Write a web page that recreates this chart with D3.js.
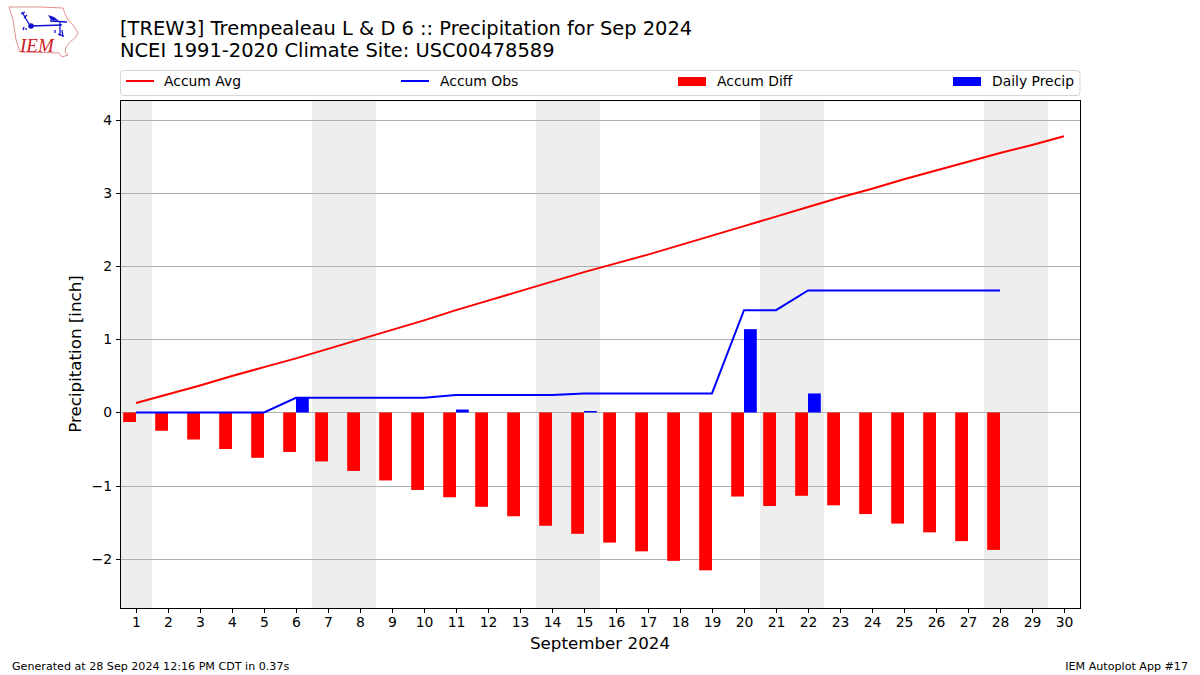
<!DOCTYPE html>
<html><head><meta charset="utf-8">
<script src="https://cdn.jsdelivr.net/npm/d3@7"></script>
<style>
html,body{margin:0;padding:0;background:#fff}
text{font-family:"DejaVu Sans",sans-serif;fill:#000}
</style></head><body>
<svg id="c" width="1200" height="675" style="display:block"></svg>
<script>
const titleLines = ["[TREW3] Trempealeau L & D 6 :: Precipitation for Sep 2024","NCEI 1991-2020 Climate Site: USC00478589"];
const days = d3.range(1,31);
const accumAvg = [0.13,0.25,0.37,0.50,0.62,0.74,0.87,1.00,1.13,1.26,1.40,1.53,1.66,1.79,1.92,2.04,2.16,2.29,2.42,2.55,2.68,2.81,2.94,3.06,3.19,3.31,3.43,3.55,3.66,3.78];
const accumObs = [0,0,0,0,0,0.20,0.20,0.20,0.20,0.20,0.24,0.24,0.24,0.24,0.26,0.26,0.26,0.26,0.26,1.40,1.40,1.67,1.67,1.67,1.67,1.67,1.67,1.67];
const accumDiff = [-0.13,-0.25,-0.37,-0.50,-0.62,-0.54,-0.67,-0.80,-0.93,-1.06,-1.16,-1.29,-1.42,-1.55,-1.66,-1.78,-1.90,-2.03,-2.16,-1.15,-1.28,-1.14,-1.27,-1.39,-1.52,-1.64,-1.76,-1.88];
const dailyPrecip = [0,0,0,0,0,0.20,0,0,0,0,0.04,0,0,0,0.02,0,0,0,0,1.14,0,0.26,0,0,0,0,0,0];
const weekendSpans = [[0.5,1.5],[6.5,8.5],[13.5,15.5],[20.5,22.5],[27.5,29.5]];
const yTicks = [-2,-1,0,1,2,3,4];
const legendLabels = ["Accum Avg","Accum Obs","Accum Diff","Daily Precip"];
const xLabel = "September 2024", yLabel = "Precipitation [inch]";
const footLeft = "Generated at 28 Sep 2024 12:16 PM CDT in 0.37s", footRight = "IEM Autoplot App #17";

const L=120.5,R=1080.5,T=100.5,B=608.5;
const x=d3.scaleLinear().domain([0.5,30.5]).range([L-0.5,R-0.5]);
const y=d3.scaleLinear().domain([-2.675,4.275]).range([B-0.5,T-0.5]);
const svg=d3.select("#c");
const barW=x(1.4)-x(1);

svg.selectAll(".wk").data(weekendSpans).join("rect").attr("fill","#eeeeee")
  .attr("x",d=>x(d[0])).attr("width",d=>x(d[1])-x(d[0])).attr("y",T).attr("height",B-T);

svg.selectAll(".grid").data(yTicks).join("line").attr("stroke","#b0b0b0").attr("stroke-width",1)
  .attr("x1",L).attr("x2",R).attr("y1",d=>Math.round(y(d))+0.5).attr("y2",d=>Math.round(y(d))+0.5);

svg.selectAll(".diff").data(accumDiff).join("rect").attr("fill","#ff0000")
  .attr("x",(d,i)=>x(days[i]-0.4)).attr("width",barW)
  .attr("y",d=>y(Math.max(d,0))).attr("height",d=>Math.abs(y(d)-y(0)));
svg.selectAll(".daily").data(dailyPrecip).join("rect").attr("fill","#0000ff")
  .attr("x",(d,i)=>x(days[i])).attr("width",barW)
  .attr("y",d=>y(d)).attr("height",d=>y(0)-y(d));

const line=d3.line().x((d,i)=>x(days[i])).y(d=>y(d));
svg.append("path").attr("d",line(accumAvg)).attr("fill","none").attr("stroke","#ff0000").attr("stroke-width",2);
svg.append("path").attr("d",line(accumObs)).attr("fill","none").attr("stroke","#0000ff").attr("stroke-width",2);

const ax=svg.append("g").attr("transform",`translate(0,${B})`)
  .call(d3.axisBottom(x).tickValues(days).tickFormat(d3.format("d")).tickSize(4.5).tickPadding(4));
const ay=svg.append("g").attr("transform",`translate(${L},0)`)
  .call(d3.axisLeft(y).tickValues(yTicks).tickFormat(d=>d<0?"\u2212"+(-d):d).tickSize(4.5).tickPadding(4));
[ax,ay].forEach(g=>{g.select(".domain").remove();g.selectAll("line").attr("stroke","#000");
  g.selectAll("text").attr("font-size",13.9).attr("font-family",'"DejaVu Sans"');});
ay.selectAll(".tick").attr("transform",d=>`translate(0,${Math.round(y(d))+0.5})`);
svg.append("rect").attr("x",L).attr("y",T).attr("width",R-L).attr("height",B-T).attr("fill","none").attr("stroke","#000");

svg.append("rect").attr("x",120.5).attr("y",70.5).attr("width",959.5).attr("height",25).attr("rx",3)
  .attr("fill","#fff").attr("stroke","#d5d5d5");
const legX=[126,401,678,953];
const legTextX=[164,440,717,992];
const legG=svg.selectAll(".leg").data(legendLabels).join("g");
legG.append("text").attr("x",(d,i)=>legTextX[i]).attr("y",86).attr("font-size",13.9).text(d=>d);
[["#ff0000",0],["#0000ff",1]].forEach(([c,i])=>svg.append("line").attr("x1",legX[i]).attr("x2",legX[i]+28).attr("y1",81).attr("y2",81).attr("stroke",c).attr("stroke-width",2));
[["#ff0000",2],["#0000ff",3]].forEach(([c,i])=>svg.append("rect").attr("x",legX[i]).attr("y",77).attr("width",28).attr("height",9).attr("fill",c));

svg.selectAll(".ttl").data(titleLines).join("text").attr("x",120).attr("y",(d,i)=>35+i*22).attr("font-size",19.45).text(d=>d);
svg.append("text").attr("x",600).attr("y",649).attr("text-anchor","middle").attr("font-size",16.7).text(xLabel);
svg.append("text").attr("transform","translate(81,354) rotate(-90)").attr("text-anchor","middle").attr("font-size",16.7).text(yLabel);
svg.append("text").attr("x",12).attr("y",670).attr("font-size",11.12).text(footLeft);
svg.append("text").attr("x",1188).attr("y",670).attr("text-anchor","end").attr("font-size",11.12).text(footRight);

// IEM logo
const logo=svg.append("g");
logo.append("path").attr("d","M9 7 L40 7 L63 8 L65 14 L68 20 L73 25 L78 33 L75 38 L70 42 L66 47 L65 52 L68 55 L62 57 L59 53 L20 52 L16 40 L13 20 Z")
  .attr("fill","#fff").attr("stroke","#e29090").attr("stroke-width",1);
logo.append("path").attr("d","M22 12 L29 24 M21 14 L25 12 M24 18 L27 15 M31 26 L62 25 M60 22 L60 36 M50 21 L67 22")
  .attr("fill","none").attr("stroke","#1010cc").attr("stroke-width",1.3);
logo.append("path").attr("d","M48 15 L54 17 L59 21 L51 20 Z").attr("fill","#1010cc");
logo.append("circle").attr("cx",31).attr("cy",26).attr("r",2.8).attr("fill","#1010cc");
logo.append("path").attr("d","M24 27 L23 30 M26 28 L26 30 M55 30 L55 33 M62 30 L63 37 M58 34 L64 36").attr("stroke","#1010cc").attr("stroke-width",1.3).attr("fill","none");
logo.append("text").attr("x",20).attr("y",52).attr("font-size",19).attr("font-style","italic")
  .style("font-family",'"Liberation Serif",serif').style("fill","#d02020").text("IEM");
</script>
</body></html>
